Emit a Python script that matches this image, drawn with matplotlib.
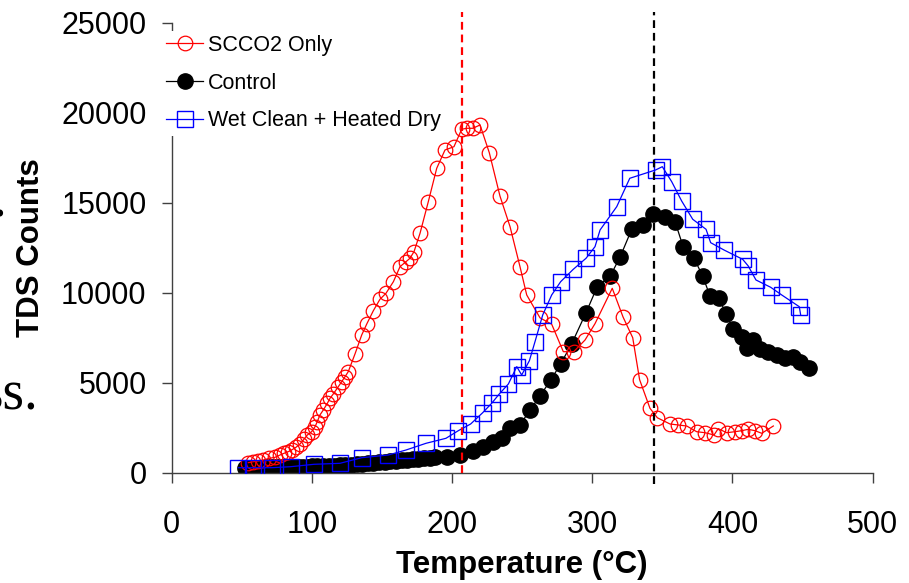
import matplotlib
matplotlib.use("Agg")
import matplotlib.pyplot as plt

plt.rcParams['font.family'] = ['Liberation Sans', 'DejaVu Sans']

# SCCO2 Only (open red circles)
scco2_t = [54.7, 58.3, 61.9, 65.4, 69.7, 73.8, 77.3, 80.2, 83.2, 85.6, 88.7, 91.6,
           94.4, 96.8, 99.9, 102.3, 103.9, 105.8, 108.2, 111.1, 113.0, 115.3, 118.9,
           121.3, 123.7, 126.0, 130.8, 135.6, 139.2, 143.9, 148.6, 152.9, 158.2,
           162.9, 167.2, 170.0, 172.9, 177.2, 183.1, 189.1, 195.0, 201.4, 206.9,
           210.5, 214.8, 220.0, 226.6, 234.2, 241.4, 248.5, 253.3, 262.8, 271.1,
           279.4, 286.8, 294.9, 302.0, 314.3, 322.0, 328.9, 333.8, 341.2, 346.5,
           355.5, 361.4, 367.4, 374.5, 380.5, 386.9, 389.9, 395.9, 401.9, 406.6,
           411.3, 416.1, 420.9, 429.2]
scco2_c = [556, 611, 650, 706, 800, 856, 983, 1078, 1167, 1261, 1411, 1595,
           1856, 2094, 2278, 2556, 2834, 3206, 3484, 3856, 4134, 4372, 4778,
           5056, 5334, 5612, 6595, 7651, 8262, 9001, 9634, 9966, 10612,
           11445, 11723, 11912, 12279, 13301, 15057, 16912, 17929, 18112, 19079,
           19134, 19134, 19318, 17779, 15373, 13668, 11445, 9873, 8600, 8250,
           6723, 6723, 7373, 8280, 10245, 8650, 7500, 5170, 3578, 3050,
           2706, 2650, 2595, 2278, 2222, 2095, 2450, 2222, 2278, 2334,
           2411, 2334, 2189, 2595]

# Control (filled black circles)
control_t = [52, 55, 58, 61, 64, 67, 70, 73, 76, 79, 82, 85, 88, 91, 94, 97, 100,
             104, 108, 112, 116, 120, 124, 128, 132, 136, 140, 144, 148, 152, 156,
             160, 164, 168, 172, 176, 180, 184, 188, 196.2, 205.7, 215.2, 222.3,
             229.5, 235.4, 241.4, 248.5, 255.6, 262.8, 270.4, 277.5, 285.3, 295.6,
             303.6, 312.9, 320.0, 328.2, 336.0, 343.6, 351.9, 359.1, 365.0, 372.6,
             378.8, 384.0, 390.6, 395.4, 400.6, 406.6, 410.2, 414.5, 419.7, 425.6,
             431.6, 437.5, 443.4, 448.2, 454.9]
control_c = [250, 260, 270, 275, 280, 290, 295, 300, 305, 310, 315, 320, 325, 330,
             335, 340, 350, 360, 370, 385, 400, 415, 430, 450, 470, 490, 520, 545,
             570, 600, 630, 660, 690, 720, 750, 780, 810, 840, 870, 889, 983, 1222,
             1445, 1723, 1911, 2467, 2650, 3484, 4262, 5150, 6040, 7150, 8890,
             10334, 10929, 12001, 13523, 13762, 14373, 14223, 13945, 12523, 11912,
             10929, 9817, 9690, 8817, 7967, 7556, 6912, 7373, 6856, 6723,
             6540, 6356, 6445, 6167, 5800]

# Wet Clean + Heated Dry (open blue squares)
wet_t = [47.6, 58.3, 71.4, 84.9, 101.6, 120.1, 135.6, 154.6, 167.2, 181.5, 195.7,
         204.5, 213.3, 221.9, 228.3, 233.7, 240.2, 246.2, 249.7, 255.2, 259.2,
         264.7, 271.1, 277.5, 286.5, 295.6, 302.0, 305.6, 317.5, 326.8, 345.2,
         350.0, 356.7, 363.8, 371.7, 381.2, 384.5, 394.0, 407.3, 411.3, 416.8,
         427.3, 435.2, 447.7, 448.7]
wet_c = [278, 278, 278, 333, 467, 522, 834, 984, 1261, 1634, 1911,
         2334, 2706, 3334, 3856, 4372, 4928, 5890, 5428, 6223, 7278,
         8762, 9873, 10612, 11300, 11912, 12557, 13484, 14779, 16357, 16818,
         17001, 16168, 15096, 14079, 13523, 12779, 12373, 11856, 11484, 10707,
         10301, 9873, 9223, 8762]

# dashed reference temperatures
ref_temps = [207.4, 344.3]
ref_colors = ['#ff0000', '#000000']
ref_bottoms = [0, -650]
ref_top = 25600

fig = plt.figure(figsize=(9.09, 5.83), dpi=100)
ax = fig.add_axes([171.6/909, 110.3/583, 701/909, 450/583])

for t, col, lo in zip(ref_temps, ref_colors, ref_bottoms):
    ax.plot([t, t], [lo, ref_top], color=col, lw=1.6, ls=(0, (3.5, 2.2)),
            clip_on=False, zorder=4)

h_ctrl, = ax.plot(control_t, control_c, color='black', lw=0.9, marker='o',
                  ms=11, mfc='black', mec='black', label='Control', zorder=2)
h_sc, = ax.plot(scco2_t, scco2_c, color='#ff0000', lw=0.9, marker='o', ms=10.5,
                mfc='none', mec='#ff0000', mew=0.9, label='SCCO2 Only', zorder=3)
h_wet, = ax.plot(wet_t, wet_c, color='#0000ff', lw=0.9, marker='s', ms=11,
                 mfc='none', mec='#0000ff', mew=1.0,
                 label='Wet Clean + Heated Dry', zorder=3)

ax.set_xlim(0, 500)
ax.set_ylim(0, 25000)
ax.set_xticks(range(0, 501, 100))
ax.set_yticks(range(0, 25001, 5000))
for s in ['top', 'right']:
    ax.spines[s].set_visible(False)
for s in ['left', 'bottom']:
    ax.spines[s].set_color('#404040')
    ax.spines[s].set_linewidth(1)
ax.tick_params(axis='both', direction='out', length=7, width=1, color='#404040',
               labelsize=22)
ax.tick_params(axis='x', pad=20)
ax.tick_params(axis='y', pad=11)

ax.set_xlabel('Temperature (°C)', fontsize=22.5, fontweight='bold', labelpad=7)
ax.set_ylabel('TDS Counts', fontsize=22.5, fontweight='bold', labelpad=11)

leg = ax.legend(handles=[h_sc, h_ctrl, h_wet], loc='upper left',
                bbox_to_anchor=(162/909, 1 - 30.5/583), bbox_transform=fig.transFigure,
                borderaxespad=0, fontsize=15.5, frameon=True, fancybox=False,
                edgecolor='none', facecolor='white', framealpha=1,
                handlelength=1.7, handletextpad=0.25, labelspacing=0.78,
                borderpad=0.2)
leg.set_zorder(6)

# fragments of the surrounding page text
fig.text(38/909, 1 - 410/583, 'ss.', family=['Liberation Serif', 'DejaVu Serif'],
         fontsize=40, ha='right', va='baseline')
fig.text(6/909, 1 - 217/583, '.', family=['Liberation Serif', 'DejaVu Serif'],
         fontsize=40, ha='right', va='baseline')

fig.savefig('out.png', dpi=100)
